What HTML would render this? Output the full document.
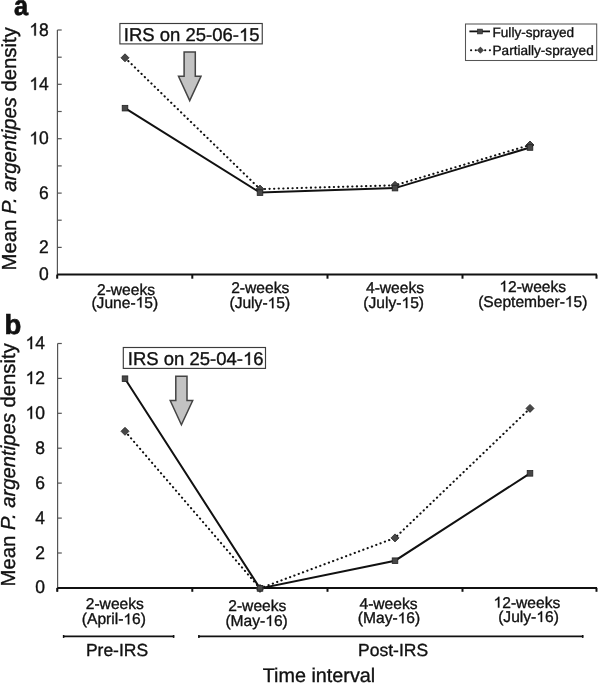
<!DOCTYPE html><html lang="en"><head><meta charset="utf-8"><style>html,body{margin:0;padding:0;background:#fff;}svg{display:block;will-change:transform;}text{font-family:"Liberation Sans",sans-serif;fill:#111;text-rendering:geometricPrecision;stroke:#111;stroke-width:0.35px;}.o{fill:transparent;stroke:transparent;}</style></head><body>
<svg width="598" height="683" viewBox="0 0 598 683">
<text x="14.1" y="15.0" style="font-weight:bold;font-size:27.5px;stroke-width:0.7px" transform="translate(14.1 0) scale(0.92 1) translate(-14.1 0)">a</text>
<g stroke="#555" stroke-width="1.2" fill="none"><path d="M57.4 30.0V278"/>
<path d="M57.4 247.4H61.7"/><path d="M57.4 220.2H61.7"/><path d="M57.4 193.1H61.7"/><path d="M57.4 165.9H61.7"/><path d="M57.4 138.7H61.7"/><path d="M57.4 111.5H61.7"/><path d="M57.4 84.3H61.7"/><path d="M57.4 57.2H61.7"/><path d="M57.4 30.0H61.7"/>
</g>
<text x="48.8" y="35.6" text-anchor="end" transform="translate(0 35.6) scale(1 1.04) translate(0 -35.6)" style="font-size:17.5px;"><tspan class="o">1</tspan>8</text>
<text x="48.8" y="89.9" text-anchor="end" transform="translate(0 89.9) scale(1 1.04) translate(0 -89.9)" style="font-size:17.5px;"><tspan class="o">1</tspan>4</text>
<text x="48.8" y="144.3" text-anchor="end" transform="translate(0 144.3) scale(1 1.04) translate(0 -144.3)" style="font-size:17.5px;"><tspan class="o">1</tspan>0</text>
<text x="48.8" y="198.7" text-anchor="end" transform="translate(0 198.7) scale(1 1.04) translate(0 -198.7)" style="font-size:17.5px;">6</text>
<text x="48.8" y="253.0" text-anchor="end" transform="translate(0 253.0) scale(1 1.04) translate(0 -253.0)" style="font-size:17.5px;">2</text>
<text x="48.8" y="280.2" text-anchor="end" transform="translate(0 280.2) scale(1 1.04) translate(0 -280.2)" style="font-size:17.5px;">0</text>
<g stroke="#111" stroke-width="2" fill="none"><path d="M57.4 274.6H597"/>
<path d="M57.2 274.6V278.7"/><path d="M192.3 274.6V278.7"/><path d="M327.5 274.6V278.7"/><path d="M462.5 274.6V278.7"/><path d="M596.5 274.6V278.7"/>
</g>
<text transform="translate(16.4 148.8) rotate(-90)" text-anchor="middle" style="font-size:20.3px">Mean <tspan style="font-style:italic">P. argentipes</tspan> density</text>
<text x="126" y="294.5" text-anchor="middle" style="font-size:15.6px;">2-weeks</text>
<text x="124.8" y="307.6" text-anchor="middle" style="font-size:15.6px;">(June-<tspan class="o">1</tspan>5)</text>
<text x="260.2" y="292.9" text-anchor="middle" style="font-size:15.6px;">2-weeks</text>
<text x="259.8" y="308.2" text-anchor="middle" style="font-size:15.6px;">(July-<tspan class="o">1</tspan>5)</text>
<text x="395" y="292.8" text-anchor="middle" style="font-size:15.6px;">4-weeks</text>
<text x="393.7" y="308.1" text-anchor="middle" style="font-size:15.6px;">(July-<tspan class="o">1</tspan>5)</text>
<text x="532.7" y="291.6" text-anchor="middle" style="font-size:15.6px;"><tspan class="o">1</tspan>2-weeks</text>
<text x="532.8" y="306.8" text-anchor="middle" style="font-size:15.6px;">(September-<tspan class="o">1</tspan>5)</text>
<polyline fill="none" stroke="#111" stroke-width="2.1" stroke-linecap="round" stroke-dasharray="0.2 4.4" points="125,57.80 260,189.10 395,185.30 530,145.00"/>
<polyline fill="none" stroke="#111" stroke-width="2" points="125,108.15 260,192.60 395,188.10 530,147.50"/>
<g fill="#474747" stroke="#222" stroke-width="0.8"><path d="M125.00 53.80L129.00 57.80L125.00 61.80L121.00 57.80Z"/><path d="M260.00 185.10L264.00 189.10L260.00 193.10L256.00 189.10Z"/><path d="M395.00 181.30L399.00 185.30L395.00 189.30L391.00 185.30Z"/><path d="M530.00 141.00L534.00 145.00L530.00 149.00L526.00 145.00Z"/><rect x="122.20" y="105.35" width="5.6" height="5.6"/><rect x="257.20" y="189.80" width="5.6" height="5.6"/><rect x="392.20" y="185.30" width="5.6" height="5.6"/><rect x="527.20" y="144.70" width="5.6" height="5.6"/></g>
<rect x="119.9" y="23.5" width="142.35" height="20.4" fill="#fff" stroke="#3c3c3c" stroke-width="1.15"/>
<text x="123.8" y="41.1" style="font-size:18.5px;">IRS on 25-06-<tspan class="o">1</tspan>5</text>
<path d="M184.1 52.0 L195.3 52.0 L195.3 76.3 L201.0 76.3 L189.7 100.6 L178.5 76.3 L184.1 76.3 Z" fill="#c3c3c3" stroke="#444" stroke-width="1.5" stroke-linejoin="miter"/>
<rect x="465.5" y="24.0" width="131.2" height="36.5" fill="#fff" stroke="#555" stroke-width="1.05"/>
<path d="M469.4 31.4H490" stroke="#111" stroke-width="1.8"/>
<rect x="477.6" y="29.1" width="4.8" height="4.8" fill="#474747" stroke="#222" stroke-width="0.6"/>
<path d="M471 50.2H490.5" stroke="#111" stroke-width="2" stroke-linecap="round" stroke-dasharray="0.2 4.5"/>
<g fill="#474747" stroke="#222" stroke-width="0.6"><path d="M480.40 47.10L483.50 50.20L480.40 53.30L477.30 50.20Z"/></g>
<text x="492.5" y="36.9" style="font-size:13.6px;">Fully-sprayed</text>
<text x="492.5" y="55.0" style="font-size:13.6px;">Partially-sprayed</text>
<text x="4.6" y="333.8" style="font-weight:bold;font-size:27.5px;stroke-width:0.7px">b</text>
<g stroke="#555" stroke-width="1.2" fill="none"><path d="M57.6 343.5V591.5"/>
<path d="M57.6 553.0H61.8"/><path d="M57.6 518.1H61.8"/><path d="M57.6 483.1H61.8"/><path d="M57.6 448.2H61.8"/><path d="M57.6 413.3H61.8"/><path d="M57.6 378.4H61.8"/><path d="M57.6 343.5H61.8"/>
</g>
<text x="45.0" y="593.4" text-anchor="end" transform="translate(0 593.4) scale(1 1.04) translate(0 -593.4)" style="font-size:17.5px;">0</text>
<text x="45.0" y="558.5" text-anchor="end" transform="translate(0 558.5) scale(1 1.04) translate(0 -558.5)" style="font-size:17.5px;">2</text>
<text x="45.0" y="523.6" text-anchor="end" transform="translate(0 523.6) scale(1 1.04) translate(0 -523.6)" style="font-size:17.5px;">4</text>
<text x="45.0" y="488.6" text-anchor="end" transform="translate(0 488.6) scale(1 1.04) translate(0 -488.6)" style="font-size:17.5px;">6</text>
<text x="45.0" y="453.7" text-anchor="end" transform="translate(0 453.7) scale(1 1.04) translate(0 -453.7)" style="font-size:17.5px;">8</text>
<text x="45.0" y="418.8" text-anchor="end" transform="translate(0 418.8) scale(1 1.04) translate(0 -418.8)" style="font-size:17.5px;"><tspan class="o">1</tspan>0</text>
<text x="45.0" y="383.9" text-anchor="end" transform="translate(0 383.9) scale(1 1.04) translate(0 -383.9)" style="font-size:17.5px;"><tspan class="o">1</tspan>2</text>
<text x="45.0" y="349.0" text-anchor="end" transform="translate(0 349.0) scale(1 1.04) translate(0 -349.0)" style="font-size:17.5px;"><tspan class="o">1</tspan>4</text>
<g stroke="#111" stroke-width="2" fill="none"><path d="M57.6 587.9H597"/>
<path d="M57.2 587.9V591.8"/><path d="M192.3 587.9V591.8"/><path d="M327.5 587.9V591.8"/><path d="M462.5 587.9V591.8"/><path d="M596.5 587.9V591.8"/>
</g>
<text transform="translate(15.2 464.8) rotate(-90)" text-anchor="middle" style="font-size:20.3px">Mean <tspan style="font-style:italic">P. argentipes</tspan> density</text>
<text x="114.8" y="609.3" text-anchor="middle" style="font-size:15.6px;">2-weeks</text>
<text x="113.9" y="624.3" text-anchor="middle" style="font-size:15.6px;">(April-<tspan class="o">1</tspan>6)</text>
<text x="257.3" y="610.8" text-anchor="middle" style="font-size:15.6px;">2-weeks</text>
<text x="256.6" y="626.0" text-anchor="middle" style="font-size:15.6px;">(May-<tspan class="o">1</tspan>6)</text>
<text x="388.5" y="608.6" text-anchor="middle" style="font-size:15.6px;">4-weeks</text>
<text x="389" y="623.2" text-anchor="middle" style="font-size:15.6px;">(May-<tspan class="o">1</tspan>6)</text>
<text x="526.9" y="607.6" text-anchor="middle" style="font-size:15.6px;"><tspan class="o">1</tspan>2-weeks</text>
<text x="528.5" y="621.9" text-anchor="middle" style="font-size:15.6px;">(July-<tspan class="o">1</tspan>6)</text>
<polyline fill="none" stroke="#111" stroke-width="2.1" stroke-linecap="round" stroke-dasharray="0.2 4.4" points="125,431.30 260,588.40 395,537.90 530,408.40"/>
<polyline fill="none" stroke="#111" stroke-width="2" points="125,378.70 260,588.40 395,560.70 530,473.35"/>
<g fill="#474747" stroke="#222" stroke-width="0.8"><path d="M125.00 427.30L129.00 431.30L125.00 435.30L121.00 431.30Z"/><path d="M260.00 584.40L264.00 588.40L260.00 592.40L256.00 588.40Z"/><path d="M395.00 533.90L399.00 537.90L395.00 541.90L391.00 537.90Z"/><path d="M530.00 404.40L534.00 408.40L530.00 412.40L526.00 408.40Z"/><rect x="122.20" y="375.90" width="5.6" height="5.6"/><rect x="257.20" y="585.60" width="5.6" height="5.6"/><rect x="392.20" y="557.90" width="5.6" height="5.6"/><rect x="527.20" y="470.55" width="5.6" height="5.6"/></g>
<rect x="123.3" y="347.5" width="142.2" height="20.9" fill="#fff" stroke="#3c3c3c" stroke-width="1.15"/>
<text x="127.8" y="364.9" style="font-size:18.5px;">IRS on 25-04-<tspan class="o">1</tspan>6</text>
<path d="M175.8 376.2 L187.0 376.2 L187.0 400.5 L192.7 400.5 L181.4 424.8 L170.2 400.5 L175.8 400.5 Z" fill="#c3c3c3" stroke="#444" stroke-width="1.5" stroke-linejoin="miter"/>
<g stroke="#111" stroke-width="1.8"><path d="M63 636.4H174.2"/><path d="M198.3 636.4H583.3"/></g><g stroke="#111" stroke-width="1.5"><path d="M63.6 635V637.9"/><path d="M173.6 635V637.9"/><path d="M198.9 635V637.9"/><path d="M582.7 635V637.9"/></g>
<text x="117.0" y="655.6" text-anchor="middle" style="font-size:17.5px;">Pre-IRS</text>
<text x="393.1" y="655.6" text-anchor="middle" style="font-size:17.5px;">Post-IRS</text>
<text x="319.0" y="681.5" text-anchor="middle" style="font-size:19.8px;">Time interval</text>
<g fill="#111" stroke="#111" stroke-width="0.35"><path transform="translate(0 35.6) scale(1 1.04) translate(0 -35.6)" d="M35.85 35.60L34.31 35.60L34.31 26.18Q33.76 26.69 32.84 27.21Q31.92 27.73 31.24 27.98L31.24 26.55Q32.48 25.99 33.42 25.18Q34.37 24.37 34.86 23.56L35.85 23.56Z"/><path transform="translate(0 89.9) scale(1 1.04) translate(0 -89.9)" d="M35.85 89.90L34.31 89.90L34.31 80.48Q33.76 80.99 32.84 81.51Q31.92 82.03 31.24 82.28L31.24 80.85Q32.48 80.29 33.42 79.48Q34.37 78.67 34.86 77.86L35.85 77.86Z"/><path transform="translate(0 144.3) scale(1 1.04) translate(0 -144.3)" d="M35.85 144.30L34.31 144.30L34.31 134.88Q33.76 135.39 32.84 135.91Q31.92 136.43 31.24 136.68L31.24 135.25Q32.48 134.69 33.42 133.88Q34.37 133.07 34.86 132.26L35.85 132.26Z"/><path d="M141.43 307.60L140.06 307.60L140.06 299.20Q139.57 299.66 138.75 300.12Q137.93 300.59 137.32 300.81L137.32 299.53Q138.42 299.03 139.27 298.31Q140.11 297.59 140.55 296.87L141.43 296.87Z"/><path d="M273.39 308.20L272.02 308.20L272.02 299.80Q271.53 300.26 270.71 300.72Q269.89 301.19 269.28 301.41L269.28 300.13Q270.38 299.63 271.23 298.91Q272.08 298.19 272.51 297.47L273.39 297.47Z"/><path d="M407.29 308.10L405.92 308.10L405.92 299.70Q405.43 300.16 404.61 300.62Q403.79 301.09 403.18 301.31L403.18 300.03Q404.28 299.53 405.13 298.81Q405.98 298.09 406.41 297.37L407.29 297.37Z"/><path d="M505.13 291.60L503.76 291.60L503.76 283.20Q503.26 283.66 502.44 284.12Q501.63 284.59 501.02 284.81L501.02 283.53Q502.12 283.03 502.97 282.31Q503.81 281.59 504.25 280.87L505.13 280.87Z"/><path d="M570.67 306.80L569.30 306.80L569.30 298.40Q568.80 298.86 567.98 299.32Q567.16 299.79 566.55 300.01L566.55 298.73Q567.66 298.23 568.50 297.51Q569.35 296.79 569.78 296.07L570.67 296.07Z"/><path d="M245.88 41.10L244.25 41.10L244.25 31.14Q243.67 31.68 242.70 32.23Q241.72 32.78 241.00 33.04L241.00 31.53Q242.31 30.94 243.31 30.09Q244.32 29.23 244.83 28.37L245.88 28.37Z"/><path transform="translate(0 418.8) scale(1 1.04) translate(0 -418.8)" d="M32.05 418.80L30.51 418.80L30.51 409.38Q29.96 409.89 29.04 410.41Q28.12 410.93 27.44 411.18L27.44 409.75Q28.68 409.19 29.62 408.38Q30.57 407.57 31.06 406.76L32.05 406.76Z"/><path transform="translate(0 383.9) scale(1 1.04) translate(0 -383.9)" d="M32.05 383.90L30.51 383.90L30.51 374.48Q29.96 374.99 29.04 375.51Q28.12 376.03 27.44 376.28L27.44 374.85Q28.68 374.29 29.62 373.48Q30.57 372.67 31.06 371.86L32.05 371.86Z"/><path transform="translate(0 349.0) scale(1 1.04) translate(0 -349.0)" d="M32.05 349.00L30.51 349.00L30.51 339.58Q29.96 340.09 29.04 340.61Q28.12 341.13 27.44 341.38L27.44 339.95Q28.68 339.39 29.62 338.58Q30.57 337.77 31.06 336.96L32.05 336.96Z"/><path d="M129.23 624.30L127.86 624.30L127.86 615.90Q127.36 616.36 126.54 616.82Q125.72 617.29 125.11 617.51L125.11 616.23Q126.22 615.73 127.06 615.01Q127.91 614.29 128.34 613.57L129.23 613.57Z"/><path d="M271.06 626.00L269.69 626.00L269.69 617.60Q269.19 618.06 268.38 618.52Q267.56 618.99 266.95 619.21L266.95 617.93Q268.05 617.43 268.90 616.71Q269.74 615.99 270.18 615.27L271.06 615.27Z"/><path d="M403.46 623.20L402.09 623.20L402.09 614.80Q401.59 615.26 400.78 615.72Q399.96 616.19 399.35 616.41L399.35 615.13Q400.45 614.63 401.30 613.91Q402.14 613.19 402.58 612.47L403.46 612.47Z"/><path d="M499.33 607.60L497.96 607.60L497.96 599.20Q497.46 599.66 496.64 600.12Q495.83 600.59 495.22 600.81L495.22 599.53Q496.32 599.03 497.17 598.31Q498.01 597.59 498.45 596.87L499.33 596.87Z"/><path d="M542.09 621.90L540.72 621.90L540.72 613.50Q540.23 613.96 539.41 614.42Q538.59 614.89 537.98 615.11L537.98 613.83Q539.08 613.33 539.93 612.61Q540.78 611.89 541.21 611.17L542.09 611.17Z"/><path d="M249.88 364.90L248.25 364.90L248.25 354.94Q247.67 355.48 246.70 356.03Q245.72 356.58 245.00 356.84L245.00 355.33Q246.31 354.74 247.31 353.89Q248.32 353.03 248.83 352.17L249.88 352.17Z"/></g>
</svg></body></html>
